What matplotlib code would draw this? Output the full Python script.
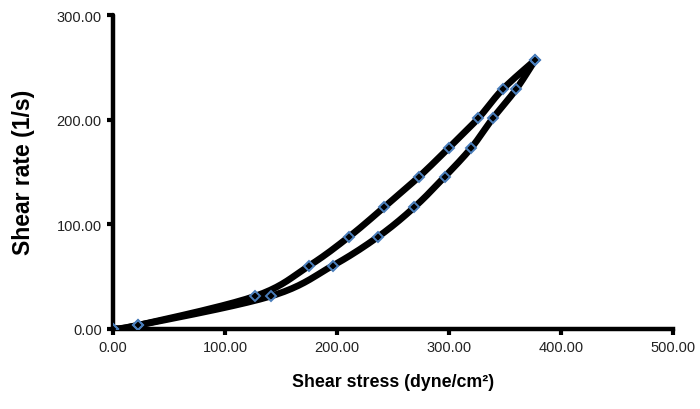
import numpy as np
import matplotlib
matplotlib.use("Agg")
import matplotlib.pyplot as plt
from matplotlib.ticker import FormatStrFormatter

plt.rcParams['font.family'] = ['Liberation Sans', 'DejaVu Sans']

# Shear stress (dyne/cm2) and shear rate (1/s): up-curve then down-curve
stress_up = [0.0, 22.0, 127.0, 175.0, 211.0, 242.0, 273.0, 300.0, 326.0, 348.0, 377.0]
rate_up = [0.0, 3.0, 31.0, 60.0, 88.0, 116.0, 145.0, 173.0, 201.0, 229.0, 257.0]
stress_down = [377.0, 360.0, 339.0, 320.0, 296.0, 269.0, 237.0, 196.0, 141.0, 22.0, 0.0]
rate_down = [257.0, 229.0, 201.0, 173.0, 145.0, 116.0, 88.0, 60.0, 31.0, 3.0, 0.0]

x_ticks = [0, 100, 200, 300, 400, 500]
y_ticks = [0, 100, 200, 300]


def smooth(xs, ys, n=20):
    # Catmull-Rom rendering of a smoothed line (Excel-like "smoothed line")
    p = np.column_stack([xs, ys]).astype(float)
    p = np.vstack([p[0], p, p[-1]])
    out = []
    for i in range(1, len(p) - 2):
        p0, p1, p2, p3 = p[i - 1], p[i], p[i + 1], p[i + 2]
        t = np.linspace(0, 1, n, endpoint=False)[:, None]
        seg = 0.5 * ((2 * p1) + (-p0 + p2) * t + (2 * p0 - 5 * p1 + 4 * p2 - p3) * t ** 2
                     + (-p0 + 3 * p1 - 3 * p2 + p3) * t ** 3)
        out.append(seg)
    out.append(p[-2][None, :])
    out = np.vstack(out)
    return out[:, 0], out[:, 1]


fig = plt.figure(figsize=(7, 4.1), dpi=100)
ax = fig.add_axes([0.1614, 0.1963, 0.80, 0.7646])

for xs, ys in [(stress_up, rate_up), (stress_down, rate_down)]:
    lx, ly = smooth(xs, ys)
    ax.plot(lx, ly, color='black', lw=4.8, solid_capstyle='round', solid_joinstyle='round', zorder=2)
for xs, ys in [(stress_up, rate_up), (stress_down, rate_down)]:
    ax.plot(xs, ys, linestyle='none', marker='D', markersize=4.8, markerfacecolor='none',
            markeredgecolor='#4a7ebb', markeredgewidth=1.4, zorder=3)

ax.set_xlim(0, 500)
ax.set_ylim(0, 300)
ax.set_xticks(x_ticks)
ax.set_yticks(y_ticks)
ax.xaxis.set_major_formatter(FormatStrFormatter('%.2f'))
ax.yaxis.set_major_formatter(FormatStrFormatter('%.2f'))

for s in ['top', 'right']:
    ax.spines[s].set_visible(False)
for s in ['left', 'bottom']:
    ax.spines[s].set_linewidth(3.2)
    ax.spines[s].set_color('black')
ax.spines['left'].set_capstyle('round')
ax.tick_params(axis='both', direction='out', length=4, width=3, labelsize=10.5,
               labelcolor='#222222', colors='black', pad=4)

ax.set_xlabel('Shear stress (dyne/cm²)', fontsize=12.8, fontweight='bold', labelpad=14)
ax.set_ylabel('Shear rate (1/s)', fontsize=16.5, fontweight='bold', labelpad=16)

fig.savefig('out.png', dpi=100)
